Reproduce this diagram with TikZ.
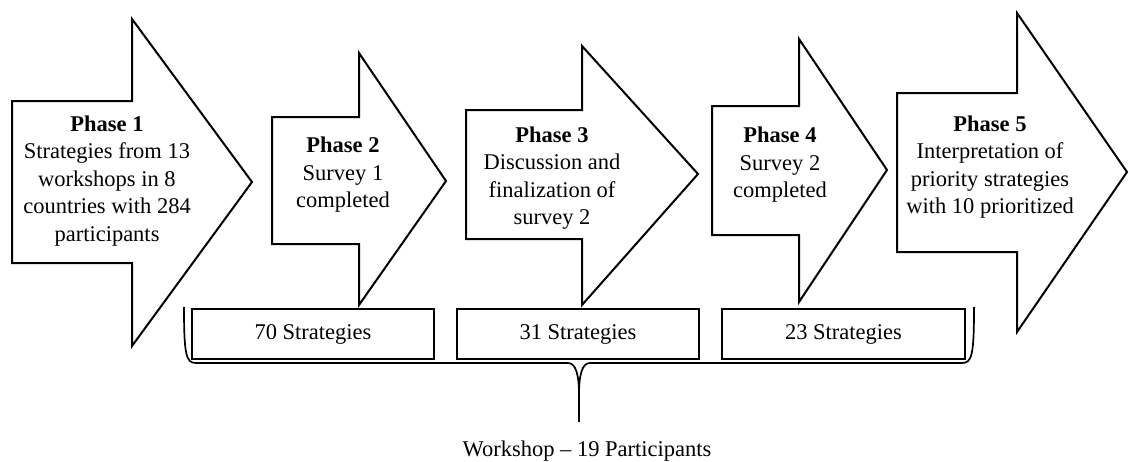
\documentclass[tikz,border=0pt]{standalone}
\usepackage{fontspec}
\setmainfont{Liberation Serif}
\begin{document}
\begin{tikzpicture}[x=1pt,y=-1pt,
    phasearrow/.style={draw, line width=2pt, line join=miter},
    phasetext/.style={align=center, inner sep=0pt, font=\fontsize{22.5}{27.5}\selectfont},
    stratbox/.style={draw, line width=2pt, minimum height=50pt, inner sep=0pt,
      font=\fontsize{22.5}{27.5}\selectfont},
    bracelin/.style={draw, line width=1.7pt}]
    \useasboundingbox (0,0) rectangle (1130,461);
    {
    % Drawing arrow of phase 1
    \draw [phasearrow] (12,101) -- (132,101) -- (132,19) -- (252,182) -- (132,346) -- (132,263) -- (12,263) -- cycle;%
    \node [phasetext] (p1) at (107,181) {\textbf{Phase 1}\\Strategies from 13\\workshops in 8\\countries with 284\\participants};%

    % Drawing arrow of phase 2
    \draw [phasearrow] (272,117) -- (359,117) -- (359,53) -- (446,181) -- (359,305) -- (359,244) -- (272,244) -- cycle;%
    \node [phasetext] (p2) at (343,175) {\textbf{Phase 2}\\Survey 1\\completed};%

    % Drawing arrow of phase 3
    \draw [phasearrow] (466,110) -- (582,110) -- (582,46) -- (698,174) -- (582,305) -- (582,239) -- (466,239) -- cycle;%
    \node [phasetext] (p3) at (552,178) {\textbf{Phase 3}\\Discussion and\\finalization of\\survey 2};%

    % Drawing arrow of phase 4
    \draw [phasearrow] (712,106) -- (799,106) -- (799,39) -- (887,170) -- (799,302) -- (799,235) -- (712,235) -- cycle;%
    \node [phasetext] (p4) at (780,165) {\textbf{Phase 4}\\Survey 2\\completed};%

    % Drawing arrow of phase 5
    \draw [phasearrow] (897,93) -- (1017,93) -- (1017,13) -- (1127,172) -- (1017,332) -- (1017,252) -- (897,252) -- cycle;%
    \node [phasetext] (p5) at (990,167) {\textbf{Phase 5}\\Interpretation of\\priority strategies\\with 10 prioritized};%

    % Marking strategy counts
    \node [stratbox, minimum width=242pt] (s70) at (313,334) {70 Strategies};%
    \node [stratbox, minimum width=242pt] (s31) at (578,334) {31 Strategies};%
    \node [stratbox, minimum width=243pt] (s23) at (843.5,334) {23 Strategies};%

    % Drawing brace under the boxes
    \draw [bracelin] (184,307) .. controls (184,355) and (186,363) .. (196,363) -- (568,363) .. controls (576,363) and (579,375) .. (579,395) -- (579,422);%
    \draw [bracelin] (579,395) .. controls (579,375) and (582,363) .. (590,363) -- (962,363) .. controls (972,363) and (974,355) .. (974,307);%

    % Marking workshop
    \node [phasetext] (ws) at (587,451) {Workshop -- 19 Participants};%
    }
\end{tikzpicture}
\end{document}
